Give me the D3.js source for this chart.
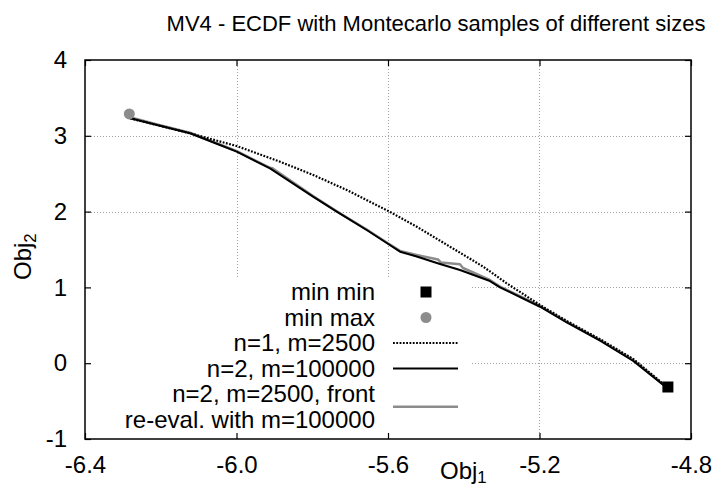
<!DOCTYPE html>
<html><head><meta charset="utf-8">
<script src="https://cdn.jsdelivr.net/npm/d3@7"></script>
<style>body{margin:0;background:#fff}svg{display:block;font-family:"Liberation Sans",Arial,sans-serif}</style>
</head><body><div id="chart"></div>
<script>
const title = "MV4 - ECDF with Montecarlo samples of different sizes";
const xTicks = [-6.4, -6.0, -5.6, -5.2, -4.8];
const yTicks = [-1, 0, 1, 2, 3, 4];
const xGrid = [-6.0, -5.6, -5.2];
const yGrid = [0, 1, 2, 3];

const minMin = [[-4.861, -0.314]];
const minMax = [[-6.283, 3.288]];

const n1m2500 = [
  [-6.281, 3.231], [-6.1228, 3.033], [-5.9995, 2.865], [-5.885, 2.658], [-5.7972, 2.483],
  [-5.709, 2.285], [-5.5992, 2.008], [-5.5242, 1.801], [-5.4363, 1.537], [-5.3484, 1.273],
  [-5.2866, 1.054], [-5.1987, 0.768], [-5.128, 0.557], [-5.0389, 0.313], [-4.9523, 0.055],
  [-4.8731, -0.274], [-4.861, -0.314]
];
const n2m100000 = [
  [-6.2812, 3.231], [-6.202, 3.133], [-6.1228, 3.033], [-6.0436, 2.879], [-5.9995, 2.791],
  [-5.9115, 2.571], [-5.798, 2.197], [-5.7354, 1.999], [-5.6562, 1.757], [-5.5992, 1.573],
  [-5.5683, 1.471], [-5.5242, 1.408], [-5.4627, 1.309], [-5.4099, 1.230], [-5.3307, 1.084],
  [-5.3043, 1.001], [-5.1987, 0.745], [-5.1282, 0.537], [-5.0389, 0.293], [-4.9523, 0.029],
  [-4.8731, -0.288], [-4.861, -0.314]
];
const n2m2500front = [
  [-6.2812, 3.245], [-6.202, 3.140], [-6.1228, 3.040], [-6.0436, 2.885], [-5.9995, 2.797],
  [-5.9115, 2.578], [-5.905, 2.572], [-5.798, 2.205], [-5.7354, 2.005], [-5.6562, 1.763],
  [-5.5992, 1.580], [-5.5683, 1.482], [-5.5242, 1.427], [-5.468, 1.368], [-5.460, 1.328],
  [-5.410, 1.305], [-5.402, 1.256], [-5.331, 1.098], [-5.3043, 1.010], [-5.1987, 0.755],
  [-5.1282, 0.547], [-5.0389, 0.303], [-4.9523, 0.040], [-4.8731, -0.280], [-4.861, -0.305]
];

const W = 714, H = 489;
const L = 85, R = 691, T = 60, B = 439;
const svg = d3.select("#chart").append("svg").attr("width", W).attr("height", H);
const x = d3.scaleLinear().domain([-6.4, -4.8]).range([L, R]);
const y = d3.scaleLinear().domain([-1, 4]).range([B, T]);
const FS = 24, TFS = 22;

// grid
const grid = svg.append("g").attr("stroke", "#a0a0a0").attr("stroke-width", 1).attr("stroke-dasharray", "1,2");
grid.selectAll(".gx").data(xGrid).join("line")
  .attr("x1", d => Math.round(x(d)) + 0.5).attr("x2", d => Math.round(x(d)) + 0.5).attr("y1", T).attr("y2", B);
grid.selectAll(".gy").data(yGrid).join("line")
  .attr("y1", d => Math.round(y(d)) + 0.5).attr("y2", d => Math.round(y(d)) + 0.5).attr("x1", L).attr("x2", R);

// curves
const line = d3.line().x(d => x(d[0])).y(d => y(d[1]));
svg.append("path").datum(n2m2500front).attr("d", line).attr("fill", "none")
  .attr("stroke", "#8c8c8c").attr("stroke-width", 2.5).attr("stroke-linejoin", "round");
svg.append("path").datum(n2m100000).attr("d", line).attr("fill", "none")
  .attr("stroke", "#000").attr("stroke-width", 2).attr("stroke-linejoin", "round");
svg.append("path").datum(n1m2500).attr("d", line).attr("fill", "none")
  .attr("stroke", "#000").attr("stroke-width", 2.2).attr("stroke-dasharray", "1.8,1.5");

// points
svg.selectAll(".mm").data(minMin).join("rect")
  .attr("x", d => x(d[0]) - 5.5).attr("y", d => y(d[1]) - 5.5).attr("width", 11).attr("height", 11).attr("fill", "#000");
svg.selectAll(".mx").data(minMax).join("circle")
  .attr("cx", d => x(d[0])).attr("cy", d => y(d[1])).attr("r", 5.5).attr("fill", "#8c8c8c");

// legend (opaque)
const lg = svg.append("g");
lg.append("rect").attr("x", L + 1).attr("y", 278).attr("width", 472 - L - 1).attr("height", B - 278 - 1).attr("fill", "#fff");
const tx = 375, sx1 = 393, sx2 = 458, sc = 426;
const rows = [292, 317.5, 343, 368.5, 394, 419.5];
const labels = ["min min", "min max", "n=1, m=2500", "n=2, m=100000", "n=2, m=2500, front", "re-eval. with m=100000"];
lg.selectAll("text").data(labels).join("text")
  .attr("x", tx).attr("y", (d, i) => rows[i] + 8).attr("text-anchor", "end")
  .attr("font-size", FS).attr("fill", "#000").text(d => d);
lg.append("rect").attr("x", sc - 5.5).attr("y", rows[0] - 5.5).attr("width", 11).attr("height", 11).attr("fill", "#000");
lg.append("circle").attr("cx", sc).attr("cy", rows[1]).attr("r", 5.5).attr("fill", "#8c8c8c");
lg.append("line").attr("x1", sx1).attr("x2", sx2).attr("y1", rows[2]).attr("y2", rows[2])
  .attr("stroke", "#000").attr("stroke-width", 2.2).attr("stroke-dasharray", "1.8,1.5");
lg.append("line").attr("x1", sx1).attr("x2", sx2).attr("y1", rows[3]).attr("y2", rows[3])
  .attr("stroke", "#000").attr("stroke-width", 2);
lg.append("line").attr("x1", sx1).attr("x2", sx2).attr("y1", (rows[4] + rows[5]) / 2).attr("y2", (rows[4] + rows[5]) / 2)
  .attr("stroke", "#8c8c8c").attr("stroke-width", 2.5);

// border
svg.append("rect").attr("x", L).attr("y", T).attr("width", R - L).attr("height", B - T)
  .attr("fill", "none").attr("stroke", "#000").attr("stroke-width", 1.5);

// axes with inward ticks
const xb = svg.append("g").attr("transform", `translate(0,${B})`)
  .call(d3.axisBottom(x).tickValues(xTicks).tickSize(-6).tickPadding(17).tickFormat(d => d.toFixed(1)));
const xt = svg.append("g").attr("transform", `translate(0,${T})`)
  .call(d3.axisTop(x).tickValues(xTicks).tickSize(-6).tickFormat(""));
const yl = svg.append("g").attr("transform", `translate(${L},0)`)
  .call(d3.axisLeft(y).tickValues(yTicks).tickSize(-6).tickPadding(18).tickFormat(d => String(d)));
const yr = svg.append("g").attr("transform", `translate(${R},0)`)
  .call(d3.axisRight(y).tickValues(yTicks).tickSize(-6).tickFormat(""));
[xb, xt, yl, yr].forEach(g => {
  g.select(".domain").remove();
  g.selectAll(".tick line").attr("stroke", "#000").attr("stroke-width", 1.2);
  g.selectAll("text").attr("font-size", FS).attr("font-family", "'Liberation Sans', Arial, sans-serif").attr("fill", "#000");
});
xb.selectAll("text").attr("dy", "0.71em");

// title
svg.append("text").attr("x", 436).attr("y", 31).attr("text-anchor", "middle")
  .attr("font-size", TFS).attr("fill", "#000").text(title);

// axis labels
const xl = svg.append("text").attr("x", 440).attr("y", 479).attr("font-size", FS).attr("fill", "#000");
xl.append("tspan").text("Obj");
xl.append("tspan").attr("font-size", FS * 0.7).attr("dy", 4).text("1");
const ylab = svg.append("text").attr("transform", "translate(31,280) rotate(-90)").attr("font-size", FS).attr("fill", "#000");
ylab.append("tspan").text("Obj");
ylab.append("tspan").attr("font-size", FS * 0.7).attr("dy", 5).text("2");
</script></body></html>
